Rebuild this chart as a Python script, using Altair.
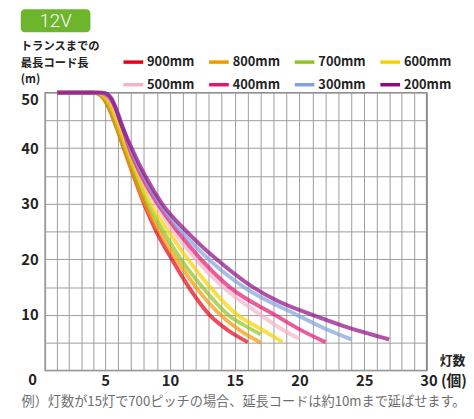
import altair as alt
import pandas as pd

FONT = "Noto Sans CJK JP"

series = ["900mm", "800mm", "700mm", "600mm", "500mm", "400mm", "300mm", "200mm"]
colors = ["#e60012", "#f39800", "#8fc31f", "#f8d000", "#f5b2cb", "#e4176c", "#7fa3db", "#920783"]

s900_x = [1, 4.0, 4.5, 4.9, 5.3, 5.9, 6.44, 7.2, 8.0, 8.95, 10.15, 11.45, 13.05, 14.5, 16.0]
s900_y = [50, 50, 49.7, 48.9, 47.2, 43.6, 40, 35, 30, 25, 20, 15, 10, 7.2, 5.1]
s800_x = [1, 4.0, 4.5, 4.9, 5.3, 5.9, 6.44, 7.22, 8.07, 9.2, 10.5, 12.0, 13.9, 15.4, 17.0]
s800_y = [50, 50, 49.7, 48.9, 47.2, 43.6, 40, 35, 30, 25, 20, 15, 10, 7.2, 5.0]
s700_x = [1, 4.1, 4.6, 5.0, 5.4, 6.0, 6.55, 7.35, 8.3, 9.5, 10.85, 12.5, 14.5, 15.9, 17.0]
s700_y = [50, 50, 49.7, 48.9, 47.2, 43.6, 40, 35, 30, 25, 20, 15, 10, 7.9, 6.5]
s600_x = [1, 4.2, 4.7, 5.1, 5.5, 6.1, 6.65, 7.5, 8.5, 9.9, 11.4, 13.1, 15.2, 17.0, 18.7]
s600_y = [50, 50, 49.7, 48.9, 47.2, 43.6, 40, 35, 30, 25, 20, 15, 10, 7.5, 5.1]
s500_x = [1, 4.4, 4.9, 5.3, 5.7, 6.25, 6.8, 7.7, 8.9, 10.3, 12.0, 14.1, 17.0, 18.5, 20.0]
s500_y = [50, 50, 49.7, 48.9, 47.2, 43.8, 40, 35, 30, 25, 20, 15, 10, 7.6, 5.7]
s400_x = [1, 4.5, 5.0, 5.4, 5.8, 6.3, 6.85, 7.8, 9.05, 10.6, 12.4, 14.6, 18.1, 20.0, 22.0]
s400_y = [50, 50, 49.7, 48.9, 47.2, 44.0, 40, 35, 30, 25, 20, 15, 10, 7.4, 5.1]
s300_x = [1, 4.6, 5.1, 5.45, 5.85, 6.35, 6.95, 7.95, 9.2, 10.9, 13.0, 15.7, 19.8, 21.9, 24.0]
s300_y = [50, 50, 49.7, 48.9, 47.2, 44.0, 40, 35, 30, 25, 20, 15, 10, 7.6, 5.6]
s200_x = [1, 4.8, 5.2, 5.5, 5.8, 6.2, 7.05, 8.1, 9.4, 11.3, 13.6, 16.4, 18.4, 21.0, 23.4, 27.0]
s200_y = [50, 50, 49.7, 48.9, 47.3, 44.6, 40, 35, 30, 25, 20, 15, 12.4, 10, 8.0, 5.6]

x_ticks = list(range(0, 31))
y_ticks = list(range(0, 51, 5))

y_title = ["トランスまでの", "最長コード長", "(m)"]
x_title = "灯数"
badge_text = "12V"
caption = "例）灯数が15灯で700ピッチの場合、延長コードは約10mまで延ばせます。"

xs = [s900_x, s800_x, s700_x, s600_x, s500_x, s400_x, s300_x, s200_x]
ys = [s900_y, s800_y, s700_y, s600_y, s500_y, s400_y, s300_y, s200_y]
rows = []
for name, xx, yy in zip(series, xs, ys):
    for a, b in zip(xx, yy):
        rows.append({"series": name, "x": a, "y": b})
df = pd.DataFrame(rows)

W, H = 387.6, 282.3

lines = alt.Chart(df).mark_line(
    strokeWidth=4, opacity=0.7, interpolate="monotone"
).encode(
    x=alt.X("x:Q", scale=alt.Scale(domain=[0, 5, 25, 30], range=[0, 61, 324.3, W], nice=False, zero=True),
            axis=alt.Axis(
                values=x_ticks, title=None, ticks=False, domain=False,
                grid=True, gridColor="#9c9c9c", gridWidth=1,
                labelExpr="datum.value == 30 ? '30 (個)' : (datum.value % 5 == 0 && datum.value > 0 ? datum.label : '')",
                labelFont=FONT, labelFontSize=15, labelFontWeight="bold", labelColor="#222",
                labelPadding=3, labelFlush=False, labelOverlap=False, labelBaseline="top",
                labelAlign=alt.condition("datum.value == 30", alt.value("left"), alt.value("center")),
                labelOffset=alt.condition("datum.value == 30", alt.value(-7), alt.value(0)),
            )),
    y=alt.Y("y:Q", scale=alt.Scale(domain=[0, 50], nice=False, zero=True),
            axis=alt.Axis(
                values=y_ticks, title=None, ticks=False, domain=False,
                grid=True, gridColor="#9c9c9c", gridWidth=1,
                labelExpr="datum.value % 10 == 0 && datum.value > 0 ? datum.label : ''",
                labelFont=FONT, labelFontSize=15, labelFontWeight="bold", labelColor="#222",
                labelPadding=7, labelOverlap=False, labelFlush=False,
                labelBaseline=alt.condition("datum.value == 50", alt.value("top"), alt.value("middle")),
            )),
    color=alt.Color("series:N", sort=series,
                    scale=alt.Scale(domain=series, range=colors),
                    legend=alt.Legend(
                        orient="none", legendX=77.6, legendY=-43, columns=4,
                        direction="horizontal",
                        symbolType="stroke", symbolSize=400, symbolStrokeWidth=3.5,
                        symbolOpacity=1, labelFont=FONT, labelFontSize=13,
                        labelFontWeight="bold", labelColor="#222", labelOffset=2,
                        columnPadding=7, rowPadding=4, padding=0, title=None,
                    )),
    order=alt.Order("x:Q"),
)

one = pd.DataFrame({"k": [0]})


def txt(text, x, y, size, weight="normal", color="#222", align="left",
        baseline="middle", font=FONT, lh=None):
    kw = dict(text=text, fontSize=size, fontWeight=weight, color=color,
              align=align, baseline=baseline, font=font)
    if lh is not None:
        kw["lineHeight"] = lh
    return alt.Chart(one).mark_text(**kw).encode(x=alt.value(x), y=alt.value(y))


badge = alt.Chart(one).mark_rect(color="#6cb52d", cornerRadius=4).encode(
    x=alt.value(-24.7), x2=alt.value(46), y=alt.value(-84.7), y2=alt.value(-61.4))

chart = alt.layer(
    lines,
    badge,
    txt(badge_text, 10.6, -73, 19, weight=300, color="white", align="center", font="Roboto"),
    txt(y_title, -24.7, -52, 11.5, weight="bold", baseline="top", lh=16.7),
    txt(x_title, 401, 272.5, 13, weight="bold"),
    txt("0", -12.7, 292.5, 15, weight="bold", align="center"),
    txt(caption, -24, 314.3, 13.4, color="#6e6e6e"),
).properties(
    width=W, height=H,
    autosize=alt.AutoSizeParams(type="none"),
    padding={"left": 37.7, "top": 82.7, "right": 40, "bottom": 45},
).configure_view(
    stroke="#8a8a8a", strokeWidth=1.5
)

chart.save("out.html", embed_options={"renderer": "svg", "actions": False})
